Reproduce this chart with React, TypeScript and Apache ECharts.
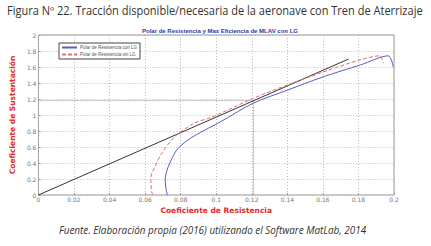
import React, { useEffect, useRef } from "react";
import * as echarts from "echarts";

const xTicks = [0, 0.02, 0.04, 0.06, 0.08, 0.1, 0.12, 0.14, 0.16, 0.18, 0.2];
const yTicks = [0, 0.2, 0.4, 0.6, 0.8, 1, 1.2, 1.4, 1.6, 1.8, 2];

const conLGX = [0.0725, 0.0716, 0.0713, 0.0722, 0.0739, 0.0777, 0.0842, 0.0935, 0.1028, 0.121, 0.14, 0.1605, 0.181, 0.1968, 0.1996];
const conLGY = [0, 0.1, 0.2, 0.3, 0.4, 0.56, 0.69, 0.81, 0.92, 1.15, 1.31, 1.48, 1.625, 1.74, 1.6];

const sinLGX = [0.0641, 0.0632, 0.0635, 0.0655, 0.0693, 0.0767, 0.0879, 0.0972, 0.121, 0.14, 0.1605, 0.181, 0.192, 0.194];
const sinLGY = [0, 0.15, 0.25, 0.35, 0.52, 0.73, 0.9, 0.97, 1.21, 1.375, 1.54, 1.69, 1.74, 1.65];

const tangenteX = [0, 0.1745];
const tangenteY = [0, 1.7];

const maxEfX = [0, 0.121, 0.121];
const maxEfY = [1.18, 1.18, 0];

const zip = (a: number[], b: number[]) => a.map((v, i) => [v, b[i]]);

export default function App() {
  const ref = useRef<HTMLDivElement>(null);
  useEffect(() => {
    const chart = echarts.init(ref.current!, undefined, { renderer: "svg" });
    const tickFont = { fontSize: 6, color: "#777", fontFamily: "DejaVu Sans" };
    chart.setOption({
      animation: false,
      backgroundColor: "#fff",
      title: {
        text: "Polar de Resistencia y Max Eficiencia de MLAV con LG",
        left: 215,
        textAlign: "center",
        top: 23,
        textStyle: { fontSize: 6, fontWeight: "bold", color: "#2a3aa8", fontFamily: "Liberation Sans" },
      },
      graphic: [
        {
          type: "text",
          x: 7,
          y: 4,
          scaleX: 0.92,
          style: {
            text: "Figura Nº 22. Tracción disponible/necesaria de la aeronave con Tren de Aterrizaje",
            fontSize: 12,
            fontFamily: "Open Sans",
            fill: "#333",
          },
        },
        {
          type: "text",
          left: 59,
          top: 225,
          style: {
            text: "Fuente. Elaboración propia (2016) utilizando el Software MatLab, 2014",
            fontSize: 9.9,
            fontStyle: "italic",
            fontFamily: "Open Sans",
            fill: "#333",
          },
        },
      ],
      legend: {
        left: 59,
        top: 43,
        orient: "vertical",
        backgroundColor: "#fff",
        borderColor: "#444",
        borderWidth: 1,
        borderRadius: 0,
        padding: [2, 3, 2, 2],
        itemGap: 2,
        itemWidth: 15,
        itemHeight: 5,
        itemStyle: { opacity: 0 },
        textStyle: { fontSize: 4.5, color: "#555", fontFamily: "Liberation Sans", padding: [0, 0, 0, -2] },
        data: ["Polar de Resistencia con LG", "Polar de Resistencia sin LG"],
      },
      grid: { left: 36, right: 37, top: 35, bottom: 51, show: true, borderColor: "#999", borderWidth: 1 },
      xAxis: {
        type: "value",
        min: 0,
        max: 0.2,
        interval: 0.02,
        name: "Coeficiente de Resistencia",
        nameLocation: "middle",
        nameGap: 5,
        nameTextStyle: { color: "#e8262a", fontSize: 7.5, fontWeight: "bold", fontFamily: "DejaVu Sans" },
        axisLine: { show: false },
        axisTick: { show: true, inside: true, length: 2, lineStyle: { color: "#999" } },
        axisLabel: { ...tickFont, margin: 1, formatter: (v: number) => (xTicks.includes(+v.toFixed(2)) ? String(+v.toFixed(2)) : "") },
        splitLine: { show: true, lineStyle: { type: [1, 2], color: "#bbb", width: 1 } },
      },
      yAxis: {
        type: "value",
        min: 0,
        max: 2,
        interval: 0.2,
        name: "Coeficiente de Sustentación",
        nameLocation: "middle",
        nameGap: 2,
        nameRotate: 90,
        nameTextStyle: { color: "#e8262a", fontSize: 7.5, fontWeight: "bold", fontFamily: "DejaVu Sans" },
        axisLine: { show: false },
        axisTick: { show: true, inside: true, length: 2, lineStyle: { color: "#999" } },
        axisLabel: { ...tickFont, margin: 2, formatter: (v: number) => (yTicks.includes(+v.toFixed(1)) ? String(+v.toFixed(1)) : "") },
        splitLine: { show: true, lineStyle: { type: [1, 2], color: "#bbb", width: 1 } },
      },
      series: [
        {
          name: "Polar de Resistencia con LG",
          type: "line",
          data: zip(conLGX, conLGY),
          symbol: "none",
          smooth: 0.3,
          lineStyle: { color: "#5a5ac8", width: 1 },
          itemStyle: { color: "#5a5ac8" },
          z: 4,
        },
        {
          name: "Polar de Resistencia sin LG",
          type: "line",
          data: zip(sinLGX, sinLGY),
          symbol: "none",
          smooth: 0.3,
          lineStyle: { color: "#e07070", width: 1, type: [4, 2] },
          itemStyle: { color: "#e07070" },
          z: 4,
        },
        {
          name: "Tangente",
          type: "line",
          data: zip(tangenteX, tangenteY),
          symbol: "none",
          lineStyle: { color: "#333", width: 1 },
          z: 3,
        },
        {
          name: "MaxEf",
          type: "line",
          data: zip(maxEfX, maxEfY),
          symbol: "none",
          lineStyle: { color: "#8a9a8a", width: 1, type: [1, 1] },
          z: 2,
        },
      ],
    });
    return () => chart.dispose();
  }, []);
  return <div ref={ref} style={{ width: 431, height: 246, position: "absolute", left: 0, top: 0 }} />;
}
